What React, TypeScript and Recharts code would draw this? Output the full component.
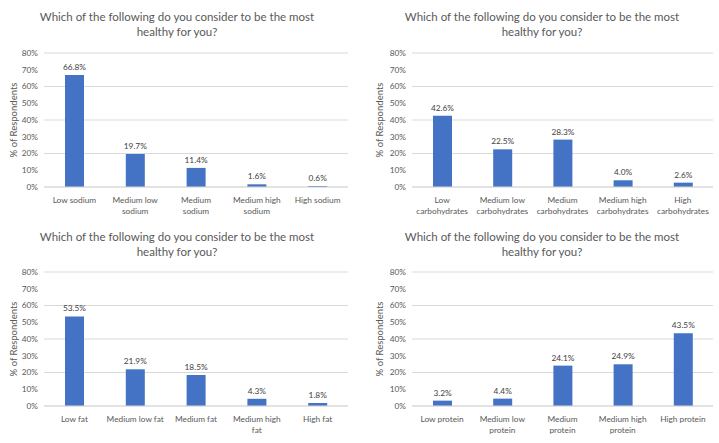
import React from "react";
import {
  BarChart,
  Bar,
  XAxis,
  YAxis,
  CartesianGrid,
  LabelList,
} from "recharts";

const TITLE = ["Which of the following do you consider to be the most", "healthy for you?"];
const Y_TICKS = [0, 10, 20, 30, 40, 50, 60, 70, 80];

const sodiumLabels = ["Low sodium", "Medium low\nsodium", "Medium\nsodium", "Medium high\nsodium", "High sodium"];
const sodiumValues = [66.8, 19.7, 11.4, 1.6, 0.6];

const carbLabels = ["Low\ncarbohydrates", "Medium low\ncarbohydrates", "Medium\ncarbohydrates", "Medium high\ncarbohydrates", "High\ncarbohydrates"];
const carbValues = [42.6, 22.5, 28.3, 4.0, 2.6];

const fatLabels = ["Low fat", "Medium low fat", "Medium fat", "Medium high\nfat", "High fat"];
const fatValues = [53.5, 21.9, 18.5, 4.3, 1.8];

const proteinLabels = ["Low protein", "Medium low\nprotein", "Medium\nprotein", "Medium high\nprotein", "High protein"];
const proteinValues = [3.2, 4.4, 24.1, 24.9, 43.5];

const FONT = "Lato, 'Open Sans', sans-serif";
const GRAY = "#595959";

const WrapTick = (props: any) => {
  const { x, y, payload } = props;
  const lines = String(payload.value).split("\n");
  return (
    <text x={x} y={y + 16} textAnchor="middle" fontSize={8.3} fill={GRAY} fontFamily={FONT}>
      {lines.map((l, i) => (
        <tspan key={i} x={x} dy={i === 0 ? 0 : 11}>
          {l}
        </tspan>
      ))}
    </text>
  );
};

interface PanelProps {
  labels: string[];
  values: number[];
  left: number;
  top: number;
  width: number;
  height: number;
  axisWidth: number;
  rightMargin: number;
  plotTop: number;
  titleCenter: number;
  labelOffset: number;
}

const Panel = ({ labels, values, left, top, width, height, axisWidth, rightMargin, plotTop, titleCenter, labelOffset }: PanelProps) => {
  const data = labels.map((name, i) => ({ name, value: values[i] }));
  const plotBottom = plotTop + 134;
  return (
    <div style={{ position: "absolute", left, top, width, height }}>
      <div
        style={{
          position: "absolute",
          left: titleCenter - 180,
          top: 9,
          width: 360,
          textAlign: "center",
          fontFamily: FONT,
          fontSize: 11.5,
          lineHeight: "15px",
          color: GRAY,
        }}
      >
        {TITLE[0]}
        <br />
        {TITLE[1]}
      </div>
      <BarChart
        width={width}
        height={height}
        data={data}
        margin={{ top: plotTop, right: rightMargin, left: 0, bottom: height - plotBottom - 30 }}
        barSize={19}
      >
        <CartesianGrid vertical={false} stroke="#d9d9d9" />
        <XAxis
          dataKey="name"
          interval={0}
          height={30}
          tickLine={false}
          tickSize={0}
          tickMargin={0}
          axisLine={{ stroke: "#d9d9d9" }}
          tick={<WrapTick />}
        />
        <YAxis
          width={axisWidth}
          domain={[0, 80]}
          ticks={Y_TICKS}
          tickFormatter={(v: number) => `${v}%`}
          axisLine={false}
          tickLine={false}
          tickSize={0}
          tickMargin={6}
          tick={{ fontSize: 8.3, fill: GRAY, fontFamily: FONT }}
          label={{
            value: "% of Respondents",
            angle: -90,
            position: "insideLeft",
            offset: labelOffset,
            style: { textAnchor: "middle", fontSize: 9.5, fill: GRAY, fontFamily: FONT },
          }}
        />
        <Bar dataKey="value" fill="#4472C4" isAnimationActive={false}>
          <LabelList
            dataKey="value"
            position="top"
            offset={5}
            formatter={(v: number) => `${v.toFixed(1)}%`}
            style={{ fontSize: 8.3, fill: "#404040", fontFamily: FONT }}
          />
        </Bar>
      </BarChart>
    </div>
  );
};

export default function App() {
  return (
    <div style={{ position: "absolute", left: 0, top: 0, width: 719, height: 443, background: "#fff" }}>
      <Panel labels={sodiumLabels} values={sodiumValues} left={0} top={0} width={360} height={220}
        axisWidth={44} rightMargin={12} plotTop={53} titleCenter={177} labelOffset={14} />
      <Panel labels={carbLabels} values={carbValues} left={360} top={0} width={359} height={220}
        axisWidth={52} rightMargin={6} plotTop={53} titleCenter={182} labelOffset={20} />
      <Panel labels={fatLabels} values={fatValues} left={0} top={220} width={360} height={223}
        axisWidth={44} rightMargin={12} plotTop={52} titleCenter={177} labelOffset={14} />
      <Panel labels={proteinLabels} values={proteinValues} left={360} top={220} width={359} height={223}
        axisWidth={52} rightMargin={6} plotTop={52} titleCenter={182} labelOffset={20} />
    </div>
  );
}
